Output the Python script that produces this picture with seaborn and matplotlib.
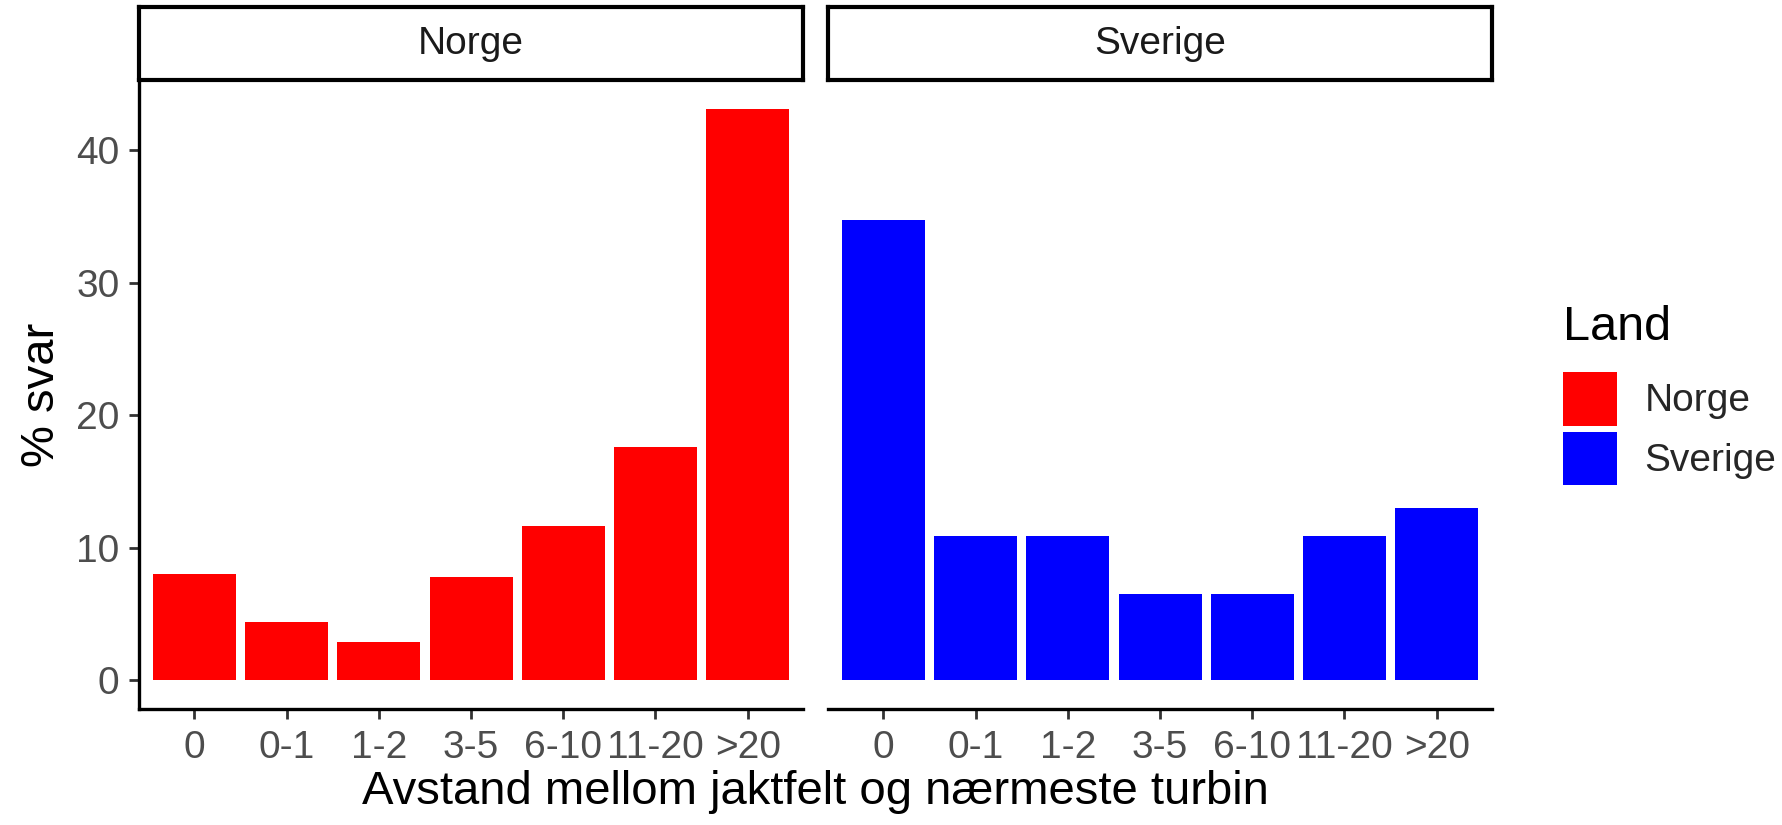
import matplotlib
matplotlib.use("Agg")
import matplotlib.pyplot as plt
import matplotlib.patches as mpatches
import seaborn as sns
import pandas as pd

categories = ["0", "0-1", "1-2", "3-5", "6-10", "11-20", ">20"]
norge = [8.05, 4.42, 2.88, 7.80, 11.68, 17.58, 43.15]
sverige = [34.78, 10.87, 10.87, 6.52, 6.52, 10.87, 13.04]
countries = ["Norge", "Sverige"]
colors = {"Norge": "#FF0000", "Sverige": "#0000FF"}

df = pd.DataFrame({
    "Avstand": categories * 2,
    "pct": norge + sverige,
    "Land": ["Norge"] * len(categories) + ["Sverige"] * len(categories),
})

sns.set_theme(style="white")
plt.rcParams["font.family"] = ["Liberation Sans", "DejaVu Sans"]

W, H = 1782, 825
fig = plt.figure(figsize=(W / 100, H / 100), dpi=100)

def fx(px):
    return px / W

def fy(py):
    return 1 - py / H

panel_top, panel_bot = 80, 709
strip_top = 7
panels_x = [(139, 803), (828, 1492)]

ymax = max(df["pct"])
ylim = (-0.05 * ymax, ymax * 1.05)

axes = []
for i, (land, (x0, x1)) in enumerate(zip(countries, panels_x)):
    ax = fig.add_axes([fx(x0), fy(panel_bot), fx(x1 - x0), (panel_bot - panel_top) / H])
    sub = df[df["Land"] == land]
    sns.barplot(data=sub, x="Avstand", y="pct", order=categories, color=colors[land],
                saturation=1, width=0.9, ax=ax, linewidth=0, errorbar=None)
    ax.set_xlim(-0.6, len(categories) - 0.4)
    ax.set_ylim(*ylim)
    ax.set_facecolor("white")
    for s in ["top", "right"]:
        ax.spines[s].set_visible(False)
    ax.spines["bottom"].set_color("black")
    ax.spines["bottom"].set_linewidth(2.4)
    if i == 0:
        ax.spines["left"].set_color("black")
        ax.spines["left"].set_linewidth(2.4)
        ax.set_yticks([0, 10, 20, 30, 40])
        ax.tick_params(axis="y", length=7, width=2.0, color="#333333", pad=7,
                       labelsize=28, labelcolor="#4D4D4D", left=True)
    else:
        ax.spines["left"].set_visible(False)
        ax.set_yticks([])
    ax.tick_params(axis="x", length=7, width=2.0, color="#333333", pad=8,
                   labelsize=28, labelcolor="#4D4D4D", bottom=True)
    ax.set_xlabel("")
    ax.set_ylabel("")
    ax.grid(False)

    # facet strip
    sax = fig.add_axes([fx(x0), fy(panel_top), fx(x1 - x0), (panel_top - strip_top) / H])
    sax.set_xticks([])
    sax.set_yticks([])
    sax.set_facecolor("white")
    for s in sax.spines.values():
        s.set_visible(True)
        s.set_color("black")
        s.set_linewidth(3.0)
    sax.text(0.5, 0.5, land, ha="center", va="center", fontsize=28, color="#1A1A1A",
             transform=sax.transAxes)
    axes.append(ax)

axes[0].set_ylabel("% svar", fontsize=34, color="black", va="center")
axes[0].yaxis.set_label_coords((42 - 139) / (803 - 139), 0.5)

fig.text(fx(815), fy(792), "Avstand mellom jaktfelt og nærmeste turbin",
         ha="center", va="center", fontsize=34, color="black")

fig.text(fx(1563), fy(327), "Land", ha="left", va="center", fontsize=35, color="black")
handles = [mpatches.Patch(facecolor=colors[c], edgecolor="none", label=c) for c in countries]
leg = fig.legend(handles=handles, loc="upper left",
                 bbox_to_anchor=(fx(1563), fy(372)), frameon=False,
                 fontsize=28, handlelength=1.4, handleheight=1.75,
                 labelspacing=0.15, handletextpad=0.7, borderpad=0, borderaxespad=0)

fig.savefig("out.png", dpi=100, facecolor="white")
